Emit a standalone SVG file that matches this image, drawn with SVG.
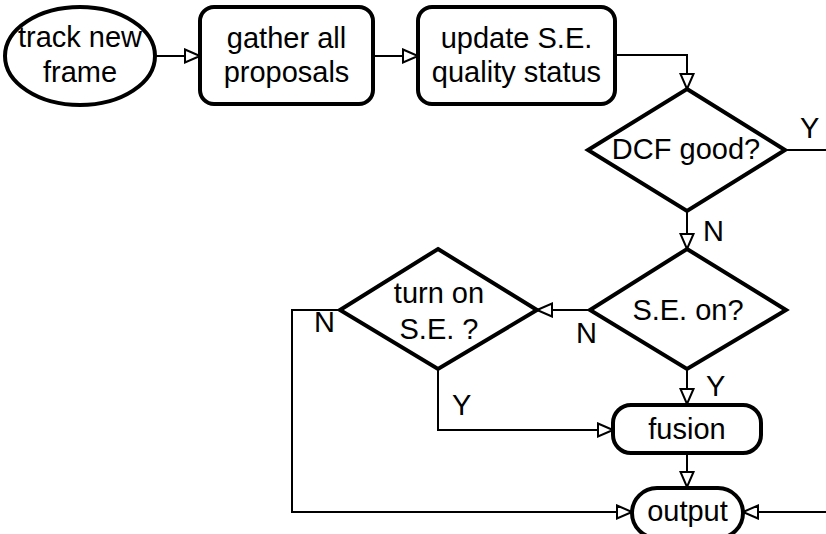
<svg xmlns="http://www.w3.org/2000/svg" width="826" height="534" viewBox="0 0 826 534">
  <style>
    .node { fill: #ffffff; stroke: #000000; stroke-width: 4; }
    .edge { fill: none; stroke: #000000; stroke-width: 2; }
    text { font-family: "Liberation Sans", Arial, sans-serif; font-size: 29px; fill: #000000; }
    .c { text-anchor: middle; }
  </style>
  <defs>
    <marker id="arrow" markerUnits="userSpaceOnUse" markerWidth="18" markerHeight="16" refX="16" refY="8" orient="auto" viewBox="0 0 18 16">
      <path d="M1,1.5 L16,8 L1,14.5 Z" fill="#ffffff" stroke="#000000" stroke-width="2" stroke-linejoin="miter"/>
    </marker>
  </defs>

  <rect width="826" height="534" fill="#ffffff"/>

  <!-- connectors -->
  <g id="connectors">
    <path class="edge" d="M155,56 H200" marker-end="url(#arrow)"/>
    <path class="edge" d="M373,56 H418" marker-end="url(#arrow)"/>
    <path class="edge" d="M615,55 H687 V89" marker-end="url(#arrow)"/>
    <path class="edge" d="M785,150 H826"/>
    <path class="edge" d="M687,211 V249" marker-end="url(#arrow)"/>
    <path class="edge" d="M590,310 H537" marker-end="url(#arrow)"/>
    <path class="edge" d="M340,310 H292 V512 H632" marker-end="url(#arrow)"/>
    <path class="edge" d="M438,369 V430 H613" marker-end="url(#arrow)"/>
    <path class="edge" d="M687,369 V404" marker-end="url(#arrow)"/>
    <path class="edge" d="M687,453 V487" marker-end="url(#arrow)"/>
    <path class="edge" d="M826,512 H743" marker-end="url(#arrow)"/>
    <text x="800" y="138">Y</text>
    <text x="703" y="241">N</text>
    <text x="576" y="343">N</text>
    <text x="314" y="332">N</text>
    <text x="452" y="415">Y</text>
    <text x="706" y="396">Y</text>
  </g>

  <g id="track">
    <ellipse class="node" cx="80" cy="56" rx="75" ry="49"/>
    <text class="c" x="80" y="47">track new</text>
    <text class="c" x="80" y="82">frame</text>
  </g>

  <g id="gather">
    <rect class="node" x="200" y="7" width="173" height="97" rx="14"/>
    <text class="c" x="286.5" y="48">gather all</text>
    <text class="c" x="286.5" y="82">proposals</text>
  </g>

  <g id="update">
    <rect class="node" x="418" y="7" width="197" height="97" rx="14"/>
    <text class="c" x="516.5" y="48">update S.E.</text>
    <text class="c" x="516.5" y="82">quality status</text>
  </g>

  <g id="dcf">
    <polygon class="node" points="687,89 785,150 687,211 588,150"/>
    <text class="c" x="686" y="159">DCF good?</text>
  </g>

  <g id="seon">
    <polygon class="node" points="687,249 786,310 687,369 590,310"/>
    <text class="c" x="688" y="320">S.E. on?</text>
  </g>

  <g id="turnon">
    <polygon class="node" points="438,249 537,310 438,369 340,310"/>
    <text class="c" x="439" y="303">turn on</text>
    <text class="c" x="439" y="339">S.E. ?</text>
  </g>

  <g id="fusion">
    <rect class="node" x="613" y="405" width="148" height="48" rx="18"/>
    <text class="c" x="687" y="439">fusion</text>
  </g>

  <g id="output">
    <rect class="node" x="632" y="488" width="111" height="50" rx="25"/>
    <text class="c" x="687.5" y="521">output</text>
  </g>
</svg>
